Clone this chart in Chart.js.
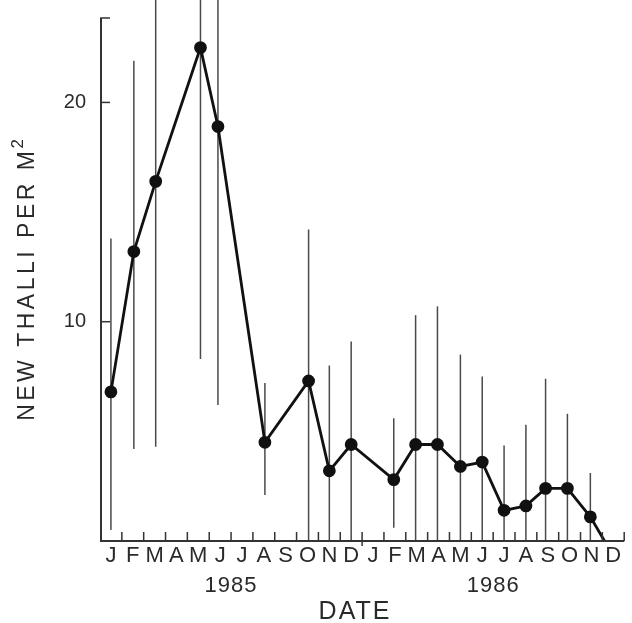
<!DOCTYPE html>
<html>
<head>
<meta charset="utf-8">
<script src="https://cdn.jsdelivr.net/npm/chart.js@4/dist/chart.umd.min.js"></script>
<style>
  html, body { margin: 0; padding: 0; background: #fff; }
  #wrap { width: 632px; height: 623px; }
</style>
</head>
<body>
<div id="wrap"><canvas id="c" width="632" height="623"></canvas></div>
<script>
// Month position (0 = 1 Jan 1985), one unit per month
const monthPos = [0.5, 1.55, 2.55, 4.6, 5.4, 7.55, 9.55, 10.5, 11.5, 13.45, 14.45, 15.45, 16.5, 17.5, 18.5, 19.5, 20.4, 21.4, 22.45, 23.1];
const thalli   = [6.8, 13.2, 16.4, 22.5, 18.9, 4.5, 7.3, 3.2, 4.4, 2.8, 4.4, 4.4, 3.4, 3.6, 1.4, 1.6, 2.4, 2.4, 1.1, 0];
const errUpper = [13.8, 21.9, 28.0, 30.0, 30.0, 7.2, 14.2, 8.0, 9.1, 5.6, 10.3, 10.7, 8.5, 7.5, 4.35, 5.3, 7.4, 5.8, 3.1, null];
const errLower = [0.5, 4.2, 4.3, 8.3, 6.2, 2.1, 0, 0, 0, 0.6, 0, 0, 0, 0, 0, 0, 0, 0, 0, null];
const monthLetters = ['J','F','M','A','M','J','J','A','S','O','N','D'];
const yearLabels = ['1985', '1986'];
const yTickLabels = [10, 20];
const yMax = 23.85;

const FONT = '"Liberation Sans", Arial, sans-serif';
const INK = '#2a2a2a';

const points = monthPos.map((m, i) => ({ x: m, y: thalli[i] }));

const decor = {
  id: 'decor',
  beforeDatasetsDraw(chart) {
    const { ctx, scales: { x, y } } = chart;
    ctx.save();
    ctx.strokeStyle = '#4a4a4a';
    ctx.lineWidth = 1.5;
    for (let i = 0; i < monthPos.length; i++) {
      if (errUpper[i] == null) continue;
      const px = x.getPixelForValue(monthPos[i]);
      const lo = Math.max(errLower[i], 0);
      ctx.beginPath();
      ctx.moveTo(px, y.getPixelForValue(lo));
      ctx.lineTo(px, y.getPixelForValue(errUpper[i]));
      ctx.stroke();
    }
    ctx.restore();
  },
  afterDraw(chart) {
    const { ctx, chartArea: a, scales: { x, y } } = chart;
    ctx.save();
    ctx.strokeStyle = '#333';
    ctx.lineWidth = 2;
    // axes
    ctx.beginPath();
    ctx.moveTo(a.left + 1, a.top);
    ctx.lineTo(a.left + 1, a.bottom);
    ctx.lineTo(a.right, a.bottom);
    ctx.stroke();
    // inward x ticks at month boundaries
    ctx.lineWidth = 1.5;
    for (let m = 1; m <= 24; m++) {
      const px = x.getPixelForValue(m);
      ctx.beginPath();
      ctx.moveTo(px, a.bottom - 9);
      ctx.lineTo(px, a.bottom + (m === 12 ? 5 : 0));
      ctx.stroke();
    }
    // inward y ticks
    [...yTickLabels, yMax].forEach(v => {
      const py = y.getPixelForValue(v);
      ctx.beginPath();
      ctx.moveTo(a.left, py);
      ctx.lineTo(a.left + 10, py);
      ctx.stroke();
    });
    // year labels
    ctx.fillStyle = INK;
    ctx.textAlign = 'center';
    ctx.textBaseline = 'middle';
    ctx.font = '22px ' + FONT;
    ctx.letterSpacing = '1px';
    yearLabels.forEach((t, i) => {
      ctx.fillText(t, x.getPixelForValue(6 + 12 * i), 586);
    });
    // x title
    ctx.font = '25px ' + FONT;
    ctx.letterSpacing = '2px';
    ctx.fillText('DATE', 355, 612);
    // y title
    ctx.translate(28, (a.top + a.bottom) / 2);
    ctx.rotate(-Math.PI / 2);
    ctx.font = '23px ' + FONT;
    ctx.letterSpacing = '3.5px';
    const main = 'NEW THALLI PER M';
    const w1 = ctx.measureText(main).width;
    ctx.font = '17px ' + FONT;
    ctx.letterSpacing = '0px';
    const w2 = ctx.measureText('2').width;
    const start = -(w1 + w2) / 2;
    ctx.textAlign = 'left';
    ctx.font = '23px ' + FONT;
    ctx.letterSpacing = '3.5px';
    ctx.fillText(main, start, 0);
    ctx.font = '17px ' + FONT;
    ctx.letterSpacing = '0px';
    ctx.fillText('2', start + w1 - 1, -10);
    ctx.restore();
  }
};

new Chart(document.getElementById('c'), {
  type: 'line',
  data: {
    datasets: [{
      data: points,
      borderColor: '#111',
      backgroundColor: '#111',
      borderWidth: 2.8,
      pointRadius: thalli.map((v, i) => i === thalli.length - 1 ? 0 : 5),
      pointHoverRadius: 0,
      tension: 0,
      clip: false
    }]
  },
  options: {
    responsive: false,
    animation: false,
    events: [],
    layout: { padding: { top: 15, right: 4, left: 0, bottom: 0 } },
    plugins: { legend: { display: false }, tooltip: { enabled: false } },
    scales: {
      x: {
        type: 'linear',
        min: 0, max: 24,
        grid: { display: false },
        border: { display: false },
        afterFit(s) { s.height = 82; },
        ticks: {
          stepSize: 0.5,
          autoSkip: false,
          maxRotation: 0,
          padding: -6,
          color: INK,
          font: { family: FONT, size: 22 },
          callback: v => (Math.abs(v % 1 - 0.5) < 1e-6) ? monthLetters[Math.floor(v) % 12] : ''
        }
      },
      y: {
        min: 0, max: yMax,
        grid: { display: false },
        border: { display: false },
        afterFit(s) { s.width = 100; },
        ticks: {
          stepSize: 10,
          padding: 6,
          color: INK,
          font: { family: FONT, size: 20 },
          callback: v => yTickLabels.includes(v) ? String(v) : ''
        }
      }
    }
  },
  plugins: [decor]
});
</script>
</body>
</html>
